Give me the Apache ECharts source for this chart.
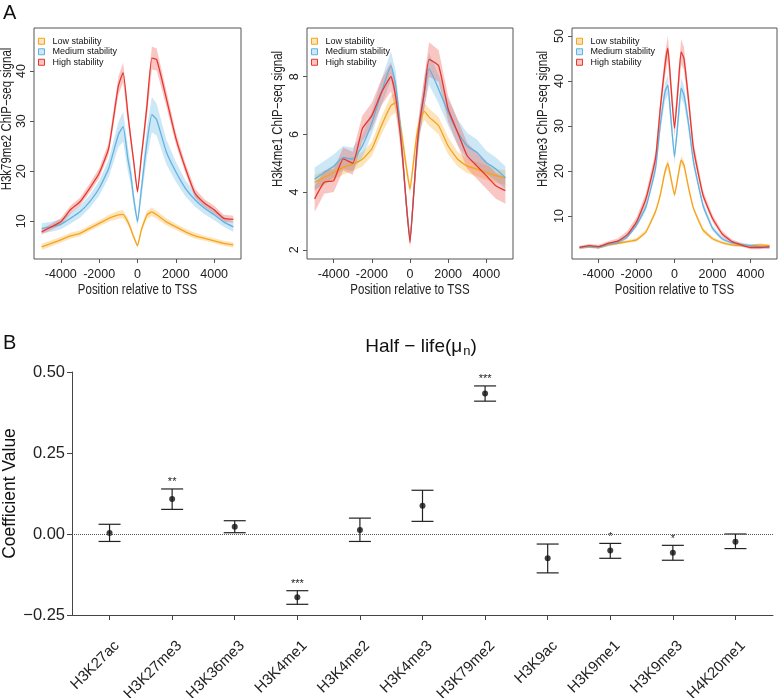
<!DOCTYPE html>
<html>
<head>
<meta charset="utf-8">
<script src="https://cdn.jsdelivr.net/npm/echarts@6/dist/echarts.min.js"></script>
<style>
  html, body { margin: 0; background: #fff; }
  #chart { width: 778px; height: 698px; }
</style>
</head>
<body>
<div id="chart"></div>
<script>
  // ---- panel A : profiles around the TSS ----
  var positions = [-5000, -4500, -4000, -3500, -3000, -2500, -2000, -1500, -1000, -750, -500, -350, -200, 0,
    200, 350, 500, 750, 1000, 1500, 2000, 2500, 3000, 3500, 4000, 4500, 5000];

  // H3k79me2
  var k79Low = [4.9, 5.6, 6.3, 7.1, 7.6, 8.6, 9.6, 10.6, 11.3, 11.4, 9.9, 8.5, 6.9, 5.1, 8.3, 9.9, 11.3, 11.9, 11.3, 9.9, 8.9, 7.9, 7.1, 6.6, 6.1, 5.6, 5.3];
  var k79Med = [8.6, 8.9, 9.4, 10.6, 11.9, 13.9, 16.6, 20.6, 27.3, 28.9, 22.4, 19.3, 14.6, 9.9, 16.3, 21.3, 25.9, 31.3, 30.3, 23.9, 19.9, 16.6, 14.3, 12.6, 11.3, 9.9, 8.9];
  var k79High = [7.9, 8.9, 9.9, 12.3, 13.9, 16.6, 19.6, 24.6, 37.0, 39.7, 31.3, 26.5, 22.0, 15.9, 22.9, 27.9, 33.3, 42.6, 42.3, 34.6, 26.6, 20.6, 15.6, 13.6, 12.3, 10.6, 10.4];
  var k79LowSe = [0.6, 0.6, 0.6, 0.6, 0.6, 0.6, 0.6, 0.7, 0.8, 0.8, 0.7, 0.6, 0.5, 0.4, 0.6, 0.7, 0.8, 0.9, 0.8, 0.7, 0.6, 0.6, 0.6, 0.5, 0.5, 0.5, 0.5];
  var k79MedSe = [1.0, 1.0, 1.0, 1.1, 1.2, 1.3, 1.5, 1.8, 2.5, 3.0, 2.5, 2.0, 1.5, 0.8, 1.8, 2.5, 3.0, 3.5, 3.2, 2.5, 2.0, 1.6, 1.4, 1.2, 1.1, 1.0, 1.0];
  var k79HighSe = [0.6, 0.6, 0.7, 0.8, 0.8, 0.9, 1.0, 1.2, 1.8, 2.0, 1.6, 1.3, 1.0, 0.6, 1.2, 1.6, 2.0, 2.3, 2.2, 1.6, 1.2, 1.0, 0.9, 0.8, 0.8, 0.7, 0.7];

  // H3k4me1
  var k4me1Low = [4.34, 4.5, 4.68, 4.86, 4.97, 5.14, 5.5, 6.3, 7.0, 7.1, 6.3, 5.6, 4.9, 4.1, 5.14, 5.95, 6.4, 6.8, 6.6, 6.3, 5.6, 5.14, 4.9, 4.8, 4.68, 4.57, 4.5];
  var k4me1Med = [4.45, 4.68, 4.9, 5.2, 5.14, 5.6, 6.4, 7.45, 8.38, 7.7, 6.18, 4.9, 3.64, 2.37, 4.0, 5.3, 6.3, 7.45, 8.27, 7.57, 6.76, 6.07, 5.6, 5.38, 5.03, 4.8, 4.5];
  var k4me1High = [3.76, 4.34, 4.4, 5.15, 5.0, 6.2, 6.65, 7.45, 8.0, 7.3, 5.95, 4.9, 3.64, 2.25, 4.0, 5.4, 6.4, 7.45, 8.6, 8.38, 6.88, 6.07, 5.26, 4.91, 4.57, 4.22, 4.05];
  var k4me1LowSe = [0.25, 0.25, 0.25, 0.25, 0.25, 0.25, 0.25, 0.3, 0.35, 0.35, 0.3, 0.3, 0.25, 0.2, 0.25, 0.3, 0.3, 0.3, 0.3, 0.3, 0.3, 0.25, 0.25, 0.25, 0.25, 0.25, 0.25];
  var k4me1MedSe = [0.4, 0.4, 0.4, 0.4, 0.4, 0.4, 0.4, 0.45, 0.5, 0.5, 0.4, 0.35, 0.25, 0.2, 0.3, 0.4, 0.45, 0.5, 0.55, 0.5, 0.45, 0.45, 0.45, 0.45, 0.4, 0.4, 0.4];
  var k4me1HighSe = [0.45, 0.4, 0.4, 0.4, 0.4, 0.45, 0.45, 0.45, 0.5, 0.5, 0.4, 0.35, 0.25, 0.2, 0.3, 0.4, 0.45, 0.55, 0.6, 0.55, 0.45, 0.45, 0.45, 0.45, 0.45, 0.45, 0.45];

  // H3k4me3
  var k4me3Low = [3.0, 3.2, 3.0, 3.6, 3.9, 4.3, 4.7, 6.5, 11.0, 14.7, 19.9, 21.7, 18.7, 14.7, 19.1, 22.4, 21.3, 16.1, 11.7, 6.9, 5.0, 4.1, 3.6, 3.4, 3.4, 3.6, 3.4];
  var k4me3Med = [3.0, 3.2, 3.0, 3.7, 4.1, 5.4, 8.0, 12.1, 20.6, 30.2, 37.6, 39.1, 32.3, 23.2, 31.9, 38.4, 36.9, 30.2, 22.1, 12.4, 7.3, 5.0, 4.1, 3.7, 3.4, 3.2, 3.0];
  var k4me3High = [3.0, 3.4, 3.2, 3.9, 4.4, 5.8, 8.7, 13.9, 22.8, 33.9, 43.6, 47.3, 39.6, 29.5, 39.2, 46.5, 45.0, 35.4, 25.0, 14.7, 9.5, 6.1, 4.4, 3.6, 3.0, 3.0, 3.2];
  var k4me3LowSe = [0.3, 0.3, 0.3, 0.3, 0.3, 0.3, 0.4, 0.5, 0.6, 0.7, 0.9, 1.0, 0.9, 0.7, 0.9, 1.0, 0.9, 0.7, 0.6, 0.5, 0.4, 0.3, 0.3, 0.3, 0.3, 0.3, 0.3];
  var k4me3MedSe = [0.3, 0.3, 0.3, 0.4, 0.4, 0.5, 0.6, 0.8, 1.2, 1.6, 2.0, 2.2, 2.0, 1.5, 2.0, 2.2, 2.0, 1.6, 1.2, 0.8, 0.6, 0.5, 0.4, 0.4, 0.4, 0.3, 0.3];
  var k4me3HighSe = [0.4, 0.4, 0.4, 0.5, 0.6, 0.8, 1.0, 1.2, 1.5, 2.0, 2.5, 2.8, 2.5, 2.0, 2.5, 2.8, 2.5, 2.0, 1.5, 1.0, 0.8, 0.6, 0.5, 0.4, 0.4, 0.4, 0.4];

  var xTicks = [-4000, -2000, 0, 2000, 4000];
  var k79Ticks = [10, 20, 30, 40];
  var k4me1Ticks = [2, 4, 6, 8];
  var k4me3Ticks = [10, 20, 30, 40, 50];

  var groups = ['Low stability', 'Medium stability', 'High stability'];

  // ---- panel B : half-life coefficients ----
  var marks = ['H3K27ac', 'H3K27me3', 'H3K36me3', 'H3K4me1', 'H3K4me2', 'H3K4me3', 'H3K79me2', 'H3K9ac', 'H3K9me1', 'H3K9me3', 'H4K20me1'];
  var coef = [0.003, 0.108, 0.022, -0.195, 0.012, 0.087, 0.434, -0.075, -0.051, -0.058, -0.024];
  var ciLow = [-0.023, 0.076, 0.004, -0.217, -0.023, 0.039, 0.410, -0.120, -0.075, -0.081, -0.045];
  var ciHigh = [0.030, 0.139, 0.041, -0.175, 0.049, 0.135, 0.457, -0.031, -0.029, -0.035, 0.000];
  var stars = ['', '**', '', '***', '', '', '***', '', '*', '*', ''];
  var coefTicks = [0, 1, 2, 3, 4, 5, 6, 7, 8, 9, 10];

  var SANS = '"Liberation Sans", Arial, sans-serif';
  var NARROW_SCALE = 0.82;  // 原图A部分用的是窄体字
  var lineColors = ['#F7A21B', '#62B2E1', '#E8352E'];
  var bandColors = ['rgba(248,180,60,0.35)', 'rgba(110,185,230,0.35)', 'rgba(235,95,85,0.35)'];

  var chart = echarts.init(document.getElementById('chart'));

  /*置信带*/
  function bandSeries(gi, vals, se, color) {
    return {
      type: 'custom', xAxisIndex: gi, yAxisIndex: gi, silent: true, z: 1, clip: true,
      data: positions.map(function (x, i) { return [x, vals[i]]; }),
      renderItem: function (params, api) {
        if (params.dataIndex !== 0) return null;
        var pts = [];
        for (var i = 0; i < positions.length; i++) pts.push(api.coord([positions[i], vals[i] + se[i]]));
        for (var j = positions.length - 1; j >= 0; j--) pts.push(api.coord([positions[j], vals[j] - se[j]]));
        return {type: 'polygon', shape: {points: pts}, style: {fill: color}};
      }
    };
  }

  function lineSeries(gi, name, vals, color) {
    return {
      type: 'line', name: name, xAxisIndex: gi, yAxisIndex: gi, z: 3,
      showSymbol: false, smooth: 0.15, silent: true,
      lineStyle: {color: color, width: 1.3}, itemStyle: {color: color},
      data: positions.map(function (x, i) { return [x, vals[i]]; })
    };
  }

  var panels = [
    {left: 34, width: 207, yMin: 2.48, yMax: 48.6, ticks: k79Ticks, vals: [k79Low, k79Med, k79High], se: [k79LowSe, k79MedSe, k79HighSe], title: 'H3k79me2 ChIP\u2212seq signal', tx: 7.5},
    {left: 307, width: 206, yMin: 1.68, yMax: 9.69, ticks: k4me1Ticks, vals: [k4me1Low, k4me1Med, k4me1High], se: [k4me1LowSe, k4me1MedSe, k4me1HighSe], title: 'H3k4me1 ChIP\u2212seq signal', tx: 278},
    {left: 572, width: 205, yMin: 0.44, yMax: 51.8, ticks: k4me3Ticks, vals: [k4me3Low, k4me3Med, k4me3High], se: [k4me3LowSe, k4me3MedSe, k4me3HighSe], title: 'H3k4me3 ChIP\u2212seq signal', tx: 543}
  ];

  var grids = [], xAxes = [], yAxes = [], series = [], legends = [], graphics = [];

  panels.forEach(function (p, gi) {
    grids.push({left: p.left, width: p.width, top: 28, height: 231, outerBoundsMode: 'none',
      show: true, borderColor: '#555', borderWidth: 1, backgroundColor: 'transparent'});
    xAxes.push({
      type: 'value', gridIndex: gi, min: -5400, max: 5400,
      axisLine: {show: false, onZero: false}, splitLine: {show: false},
      axisTick: {show: true, length: 4, lineStyle: {color: '#555'}, customValues: xTicks},
      axisLabel: {customValues: xTicks, showMinLabel: true, showMaxLabel: true, margin: 9, fontFamily: SANS, fontSize: 12.5, color: '#222',
        formatter: function (v) { return String(v); }}
    });
    yAxes.push({
      type: 'value', gridIndex: gi, min: p.yMin, max: p.yMax,
      axisLine: {show: false, onZero: false}, splitLine: {show: false},
      axisTick: {show: true, length: 4, lineStyle: {color: '#555'}, customValues: p.ticks},
      axisLabel: {customValues: p.ticks, showMinLabel: true, showMaxLabel: true, rotate: 90, margin: 6, fontFamily: SANS, fontSize: 12.5, color: '#222'}
    });
    for (var k = 0; k < 3; k++) series.push(bandSeries(gi, p.vals[k], p.se[k], bandColors[k]));
    for (var m = 0; m < 3; m++) series.push(lineSeries(gi, groups[m], p.vals[m], lineColors[m]));
    legends.push({
      left: p.left + 4, top: 36, orient: 'vertical', itemWidth: 6, itemHeight: 6, itemGap: 0, padding: 0,
      icon: 'rect', selectedMode: false,
      textStyle: {fontFamily: SANS, fontSize: 9, color: '#111', lineHeight: 10.5, padding: [0, 0, 0, 3]},
      data: groups.map(function (g, i) {
        return {name: g, itemStyle: {color: bandColors[i], borderColor: lineColors[i], borderWidth: 1}};
      })
    });
    // y轴标题
    graphics.push({
      type: 'text', x: p.tx, y: 119, rotation: Math.PI / 2, scaleX: NARROW_SCALE,
      style: {text: p.title, align: 'center', verticalAlign: 'middle', fontFamily: SANS, fontSize: 14, fill: '#222'}
    });
    // x轴标题
    graphics.push({
      type: 'text', x: p.left + p.width / 2, y: 290, scaleX: NARROW_SCALE,
      style: {text: 'Position relative to TSS', align: 'center', verticalAlign: 'middle', fontFamily: SANS, fontSize: 14, fill: '#222'}
    });
  });

  // panel B grid
  grids.push({left: 72, right: 5, top: 372, height: 243, outerBoundsMode: 'none'});
  xAxes.push({
    type: 'value', gridIndex: 3, min: -0.6, max: 10.6,
    axisLine: {show: true, onZero: false, lineStyle: {color: '#444', width: 1}}, splitLine: {show: false},
    axisTick: {show: true, length: 5, lineStyle: {color: '#444'}, customValues: coefTicks},
    axisLabel: {
      customValues: coefTicks, showMinLabel: true, showMaxLabel: true, rotate: 45, margin: 21,
      align: 'right', verticalAlign: 'top', padding: [3, 0, 0, 0],
      fontFamily: SANS, fontSize: 15, color: '#222',
      formatter: function (v) { return marks[Math.round(v)]; }
    }
  });
  yAxes.push({
    type: 'value', gridIndex: 3, min: -0.25, max: 0.5, interval: 0.25,
    axisLine: {show: true, onZero: false, lineStyle: {color: '#444', width: 1}}, splitLine: {show: false},
    axisTick: {show: true, length: 5, lineStyle: {color: '#444'}},
    axisLabel: {showMinLabel: true, showMaxLabel: true, margin: 7, fontFamily: SANS, fontSize: 16.5, color: '#222',
      formatter: function (v) { return (v < 0 ? '\u2212' : '') + Math.abs(v).toFixed(2); }}
  });

  series.push({
    type: 'custom', xAxisIndex: 3, yAxisIndex: 3, silent: true, z: 3,
    encode: {x: 0, y: [1, 2]},
    data: marks.map(function (m, i) { return [i, ciLow[i], ciHigh[i]]; }),
    renderItem: function (params, api) {
      var x = api.value(0);
      var lo = api.coord([x, api.value(1)]);
      var hi = api.coord([x, api.value(2)]);
      var w = 11;
      var st = {stroke: '#222', lineWidth: 1.2};
      var kids = [
        {type: 'line', shape: {x1: hi[0], y1: hi[1], x2: lo[0], y2: lo[1]}, style: st},
        {type: 'line', shape: {x1: hi[0] - w, y1: hi[1], x2: hi[0] + w, y2: hi[1]}, style: st},
        {type: 'line', shape: {x1: lo[0] - w, y1: lo[1], x2: lo[0] + w, y2: lo[1]}, style: st}
      ];
      if (stars[params.dataIndex]) {
        kids.push({type: 'text', x: hi[0], y: hi[1] - 1, style: {text: stars[params.dataIndex], align: 'center', verticalAlign: 'bottom', fontFamily: SANS, fontSize: 11, fill: '#222'}});
      }
      return {type: 'group', children: kids};
    }
  });
  series.push({
    type: 'scatter', xAxisIndex: 3, yAxisIndex: 3, symbolSize: 6, z: 4, silent: true,
    itemStyle: {color: '#111'},
    data: marks.map(function (m, i) { return [i, coef[i]]; }),
    markLine: {
      silent: true, symbol: 'none', label: {show: false},
      lineStyle: {type: 'dotted', color: '#555', width: 1},
      data: [{yAxis: 0}]
    }
  });

  graphics.push({type: 'text', x: 3, y: 3, style: {text: 'A', fontFamily: SANS, fontSize: 20, fill: '#111', verticalAlign: 'top'}});
  graphics.push({type: 'text', x: 3, y: 333, style: {text: 'B', fontFamily: SANS, fontSize: 20, fill: '#111', verticalAlign: 'top'}});
  graphics.push({
    type: 'text', x: 10.5, y: 493.5, rotation: Math.PI / 2,
    style: {text: 'Coefficient Value', align: 'center', verticalAlign: 'middle', fontFamily: SANS, fontSize: 17.5, fill: '#111'}
  });
  graphics.push({
    type: 'text', x: 421, y: 347,
    style: {
      text: 'Half \u2212 life(\u03bc{sub|n})', align: 'center', verticalAlign: 'middle',
      fontFamily: SANS, fontSize: 19, fill: '#111',
      rich: {sub: {fontFamily: SANS, fontSize: 13, fill: '#111', padding: [8, 0, 0, 1]}}
    }
  });

  chart.setOption({
    animation: false,
    backgroundColor: '#fff',
    grid: grids,
    xAxis: xAxes,
    yAxis: yAxes,
    legend: legends,
    graphic: graphics,
    series: series
  });
</script>
</body>
</html>
